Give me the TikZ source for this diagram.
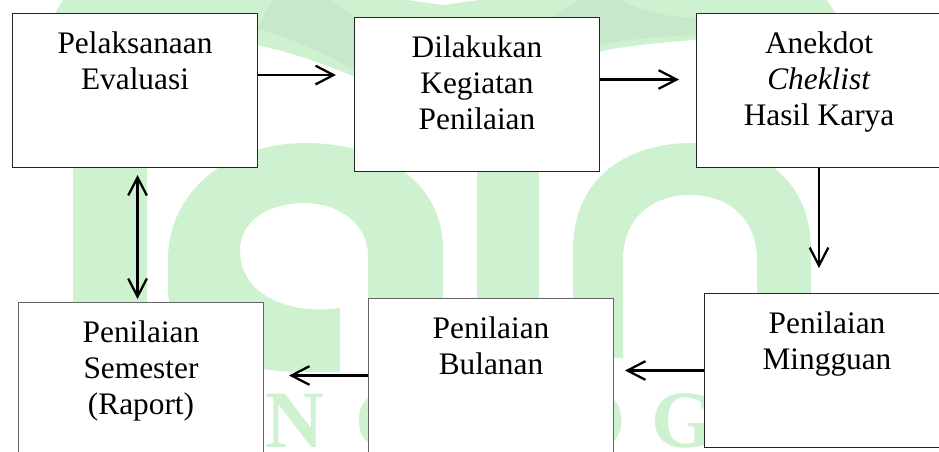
\documentclass[tikz,border=0pt]{standalone}
\usepackage{fontspec}
\setmainfont{Liberation Serif}
\usetikzlibrary{arrows.meta, calc}
\definecolor{wmgreen}{RGB}{206,242,208}
\definecolor{wmdark}{RGB}{199,232,202}
\tikzset{
  barb/.tip={Straight Barb[length=13.5pt,width=14pt]},
  box/.style={draw=black!85, fill=white, line width=0.75pt, minimum width=183.75pt, minimum height=115.5pt, anchor=north west, inner sep=0pt},
  greybox/.style={box, draw=black!60},
  lbl/.style={anchor=north, align=center, inner sep=0pt, font=\fontsize{23.5}{27}\selectfont},
  arr/.style={-barb, line width=1.7pt},
  darr/.style={barb-barb, line width=1.7pt},
  wmletter/.style={text=wmgreen, font=\fontsize{61}{61}\selectfont\bfseries, anchor=base, inner sep=0pt}
}

\begin{document}
\begin{tikzpicture}[x=0.75pt, y=-0.75pt]
\clip (0,0) rectangle (939,451);
\fill[white] (0,0) rectangle (939,451);

% watermark
\fill[wmgreen] (63,0) -- (407,0) -- (443,5) -- (479,0) -- (827,0) -- (850,35) .. controls (760,35) and (650,40) .. (598,52) .. controls (530,70) and (480,110) .. (450,125) .. controls (420,105) and (330,60) .. (257,45) .. controls (150,30) and (80,30) .. (45,30) -- cycle;
\fill[wmdark] (273,0) -- (330,0) .. controls (370,25) and (410,55) .. (440,95) -- (430,110) .. controls (400,90) and (370,75) .. (354,70) .. controls (320,50) and (280,35) .. (257,28) -- cycle;
\fill[wmdark] (580,0) -- (620,0) .. controls (650,15) and (680,18) .. (700,18) -- (700,35) .. controls (660,36) and (620,40) .. (598,45) .. controls (575,50) and (560,55) .. (550,60) -- (545,20) -- cycle;
\fill[wmgreen] (73,100) rectangle (147,320);
\fill[wmgreen] (443,330) -- (443,250) .. controls (443,180) and (380,143) .. (305,143) .. controls (230,143) and (168,190) .. (168,260) -- (168,290) .. controls (168,340) and (230,372) .. (300,372) -- (340,372) -- (340,308) .. controls (320,310) .. (300,308) .. controls (255,300) and (240,275) .. (240,250) .. controls (240,220) and (270,203) .. (304,203) .. controls (340,203) and (368,225) .. (368,255) -- (368,330) -- cycle;
\fill[wmgreen] (477,150) rectangle (539,320);
\fill[wmgreen] (573,358) -- (573,250) .. controls (573,175) and (630,143) .. (692,143) .. controls (760,143) and (811,180) .. (811,250) -- (811,300) -- (757,300) -- (757,260) .. controls (757,220) and (730,195) .. (690,195) .. controls (650,195) and (623,220) .. (623,260) -- (623,358) -- cycle;
\node[wmletter] (wn) at (295,447) {N};
\node[wmletter] (wo) at (387,447) {O};
\node[wmletter] (woo) at (594,447) {O};
\node[wmletter] (wg) at (683,447) {G};

% boxes
\node[box] (eval) at (12,13) {};
\node[box] (kegiatan) at (354,17) {};
\node[box] (anekdot) at (696,13) {};
\node[greybox] (semester) at (18,302) {};
\node[greybox] (bulanan) at (368,298) {};
\node[box] (mingguan) at (704,293) {};

\node[lbl] (evalt) at ([yshift=-14pt]eval.north) {Pelaksanaan\\Evaluasi};
\node[lbl] (kegiatant) at ([yshift=-14pt]kegiatan.north) {Dilakukan\\Kegiatan\\Penilaian};
\node[lbl] (anekdott) at ([yshift=-14pt]anekdot.north) {Anekdot\\\textit{Cheklist}\\Hasil Karya};
\node[lbl] (semestert) at ([yshift=-14pt]semester.north) {Penilaian\\Semester\\(Raport)};
\node[lbl] (bulanant) at ([yshift=-14pt]bulanan.north) {Penilaian\\Bulanan};
\node[lbl] (minggut) at ([yshift=-14pt]mingguan.north) {Penilaian\\Mingguan};

% arrows
\coordinate (a1) at ([yshift=11.6pt]eval.east);
\coordinate (a2) at ([yshift=11.25pt]kegiatan.east);
\coordinate (a6) at ([xshift=1.9pt]eval.south);
\draw[arr, shorten >=13.5pt] (a1) -- (a1 -| kegiatan.west);
\draw[arr, shorten >=12.75pt] (a2) -- (a2 -| anekdot.west);
\draw[arr, shorten >=18.75pt] (anekdot.south) -- (anekdot.south |- mingguan.north);
\draw[arr, shorten >=8.25pt] (mingguan.west) -- (mingguan.west -| bulanan.east);
\draw[arr, shorten >=18.75pt] (bulanan.west) -- (bulanan.west -| semester.east);
\draw[darr, shorten <=5.25pt, shorten >=2.25pt] (a6) -- (a6 |- semester.north);

\end{tikzpicture}
\end{document}
